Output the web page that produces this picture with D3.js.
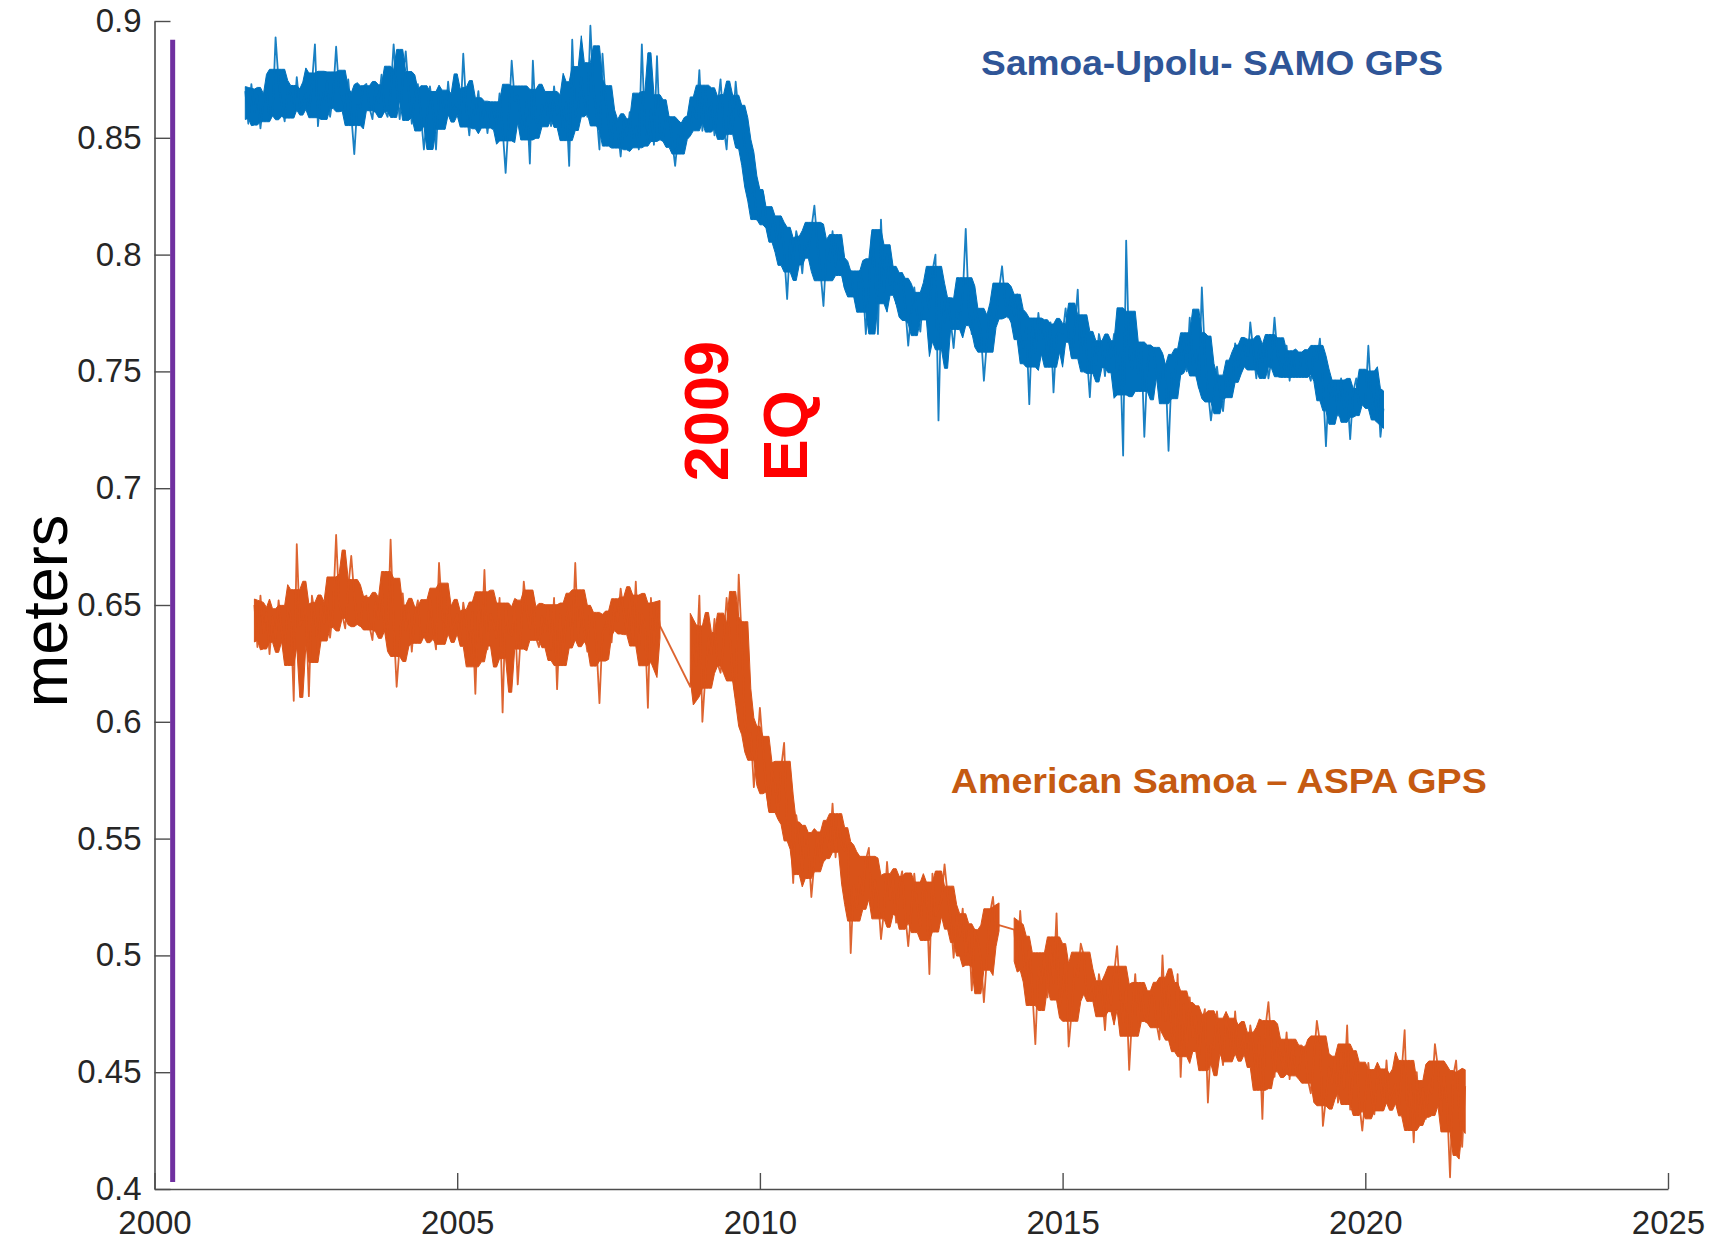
<!DOCTYPE html>
<html>
<head>
<meta charset="utf-8">
<script src="https://cdn.jsdelivr.net/npm/d3@7"></script>
<style>
  body { margin: 0; background: #fff; }
  .tick text { font-family: "Liberation Sans", Arial, sans-serif; fill: #262626; }
</style>
</head>
<body>
<div id="chart"></div>
<script>
// sampling of both GPS series: 20 values per year
const samplesPerYear = 20;

// Samoa-Upolu SAMO GPS (meters)
const samoStart = 2001.5;
const samoValues = [
  .870,.856,.873,.861,.868,.854,.866,.871,.858,.860,
  .893,.874,.864,.857,.871,.869,.859,.876,.863,.865,.869,.860,.873,.890,.855,.870,.864,.874,.859,.868,
  .889,.870,.867,.862,.875,.860,.843,.864,.863,.872,.873,.863,.858,.871,.865,.877,.862,.859,.869,.890,
  .872,.858,.875,.887,.870,.856,.868,.873,.860,.845,.859,.872,.862,.845,.869,.867,.857,.874,.861,.863,
  .865,.856,.886,.863,.851,.866,.860,.870,.855,.864,.852,.864,.861,.856,.869,.854,.835,.858,.883,.866,
  .868,.858,.853,.866,.839,.883,.857,.854,.864,.859,.869,.855,.872,.860,.867,.853,.865,.838,.892,.859,
  .863,.876,.866,.859,.898,.871,.861,.845,.886,.867,.856,.847,.860,.854,.842,.857,.851,.861,.846,.855,
  .845,.890,.854,.849,.862,.847,.885,.851,.850,.859,.859,.849,.838,.851,.845,.857,.856,.853,.863,.858,
  .879,.853,.870,.858,.865,.851,.863,.875,.855,.845,.866,.854,.874,.860,.858,.846,.843,.826,.830,.815,
  .815,.827,.816,.807,.818,.813,.801,.816,.801,.781,.806,.797,.810,.804,.792,.807,.801,.811,.821,.805,
  .793,.778,.802,.797,.810,.795,.808,.793,.786,.793,.793,.783,.779,.793,.788,.766,.786,.809,.794,.766,
  .815,.784,.800,.787,.793,.779,.789,.792,.778,.761,.776,.786,.774,.767,.783,.783,.776,.793,.800,.729,
  .783,.771,.781,.772,.760,.776,.771,.782,.811,.777,.766,.777,.773,.767,.746,.763,.777,.771,.773,.785,
  .795,.780,.773,.783,.774,.783,.765,.760,.769,.736,.772,.758,.775,.763,.770,.756,.771,.741,.765,.768,
  .766,.777,.765,.756,.768,.785,.754,.770,.757,.739,.762,.753,.766,.760,.748,.762,.756,.766,.750,.758,
  .714,.806,.756,.751,.764,.749,.762,.722,.752,.761,.760,.749,.744,.757,.751,.716,.749,.747,.758,.755,
  .764,.750,.773,.753,.759,.743,.786,.757,.742,.729,.740,.752,.741,.733,.747,.747,.741,.762,.752,.757,
  .761,.752,.771,.759,.747,.761,.754,.763,.747,.755,.773,.757,.753,.748,.761,.746,.758,.749,.748,.757,
  .759,.750,.746,.760,.754,.764,.745,.718,.745,.739,.746,.731,.747,.734,.741,.721,.741,.747,.735,.737,
  .736,.761,.739,.732,.746,.722,.734
];

// American Samoa ASPA GPS (meters), three recorded stretches
const aspaStartA = 2001.65;
const aspaValuesA = [
  .650,.632,.654,.638,.647,.629,.645,
  .636,.652,.639,.630,.649,.646,.609,.676,.641,.644,.649,.611,.654,.646,.631,.650,.642,.655,.636,.648,
  .680,.650,.646,.640,.657,.671,.654,.642,.641,.653,.654,.641,.635,.651,.644,.659,.640,.636,.678,.642,
  .615,.633,.655,.639,.648,.630,.646,.652,.635,.638,.637,.653,.640,.631,.668,.647,.634,.656,.639,.642,
  .646,.634,.651,.643,.628,.647,.612,.652,.633,.665,.631,.646,.642,.636,.653,.604,.650,.638,.637,.649,
  .616,.637,.660,.647,.640,.655,.636,.632,.645,.638,.649,.631,.653,.614,.646,.628,.644,.650,.633,.668,
  .636,.652,.639,.630,.649,.646,.633,.608,.638,.641,.646,.634,.651,.643,.657,.647,.639,.652,.633,.660,
  .631,.646,.642,.606,.653,.633,.650,.641
];
const aspaStartB = 2008.85;
const aspaValuesB = [
  .615,.633,.624,
  .654,.600,.620,.636,.629,.644,.625,.621,.634,.653,.638,.620,.611,.663,.635,.600,.593,.595,.572,.588,
  .606,.589,.573,.562,.579,.574,.559,.580,.591,.556,.556,.531,.560,.551,.536,.554,.546,.525,.540,.552,
  .540,.555,.551,.545,.565,.542,.559,.547,.545,.553,.501,.530,.520,.534,.526,.541,.546,.519,.532,.526,
  .507,.519,.540,.524,.533,.514,.530,.536,.518,.504,.519,.535,.521,.512,.530,.527,.492,.535,.517,.520,
  .524,.539,.526,.516,.499,.517,.508,.520,.500,.511,.485,.511,.506,.499,.480,.499,.518,.525,.509,.513
];
const aspaStartC = 2014.2;
const aspaValuesC = [
  .511,.496,.519,.500,.490,.504,.485,.462,.495,.488,.500,.482,.504,.488,.518,.478,
  .485,.500,.461,.476,.495,.491,.505,.500,.482,.484,.488,.476,.492,.484,.468,.487,.479,.492,.504,.484,
  .471,.486,.451,.475,.492,.471,.487,.474,.472,.484,.484,.471,.464,.500,.472,.487,.467,.463,.492,.448,
  .479,.460,.482,.465,.474,.456,.471,.477,.437,.462,.460,.476,.462,.453,.472,.468,.455,.476,.459,.461,
  .466,.454,.470,.462,.447,.465,.430,.469,.480,.462,.448,.463,.458,.451,.467,.447,.463,.450,.449,.460,
  .461,.447,.441,.456,.472,.463,.427,.439,.452,.445,.456,.437,.459,.443,.470,.434,.449,.455,.437,.425,
  .439,.454,.441,.432,.450,.447,.434,.455,.438,.441,.445,.433,.450,.468,.427,.445,.420,.450,.431,.443,
  .430,.445,.441,.462,.452,.432,.449,.437,.405,.448,.455,.434,.418,.444
];

// purple reference line
const markerYears = [2000.3, 2000.3];
const markerValues = [0.403, 0.892];

// axes
const xDomain = [2000, 2025];
const yDomain = [0.4, 0.9];
const xTicks = [2000, 2005, 2010, 2015, 2020, 2025];
const yTicks = [0.4, 0.45, 0.5, 0.55, 0.6, 0.65, 0.7, 0.75, 0.8, 0.85, 0.9];

function toPoints(start, values) {
  return values.map((v, i) => ({ year: start + i / samplesPerYear, value: v }));
}

// dense core of the noisy record: inner quantiles over 7 neighbouring samples
function coreBand(points) {
  return points.map((d, i) => {
    const w = points.slice(Math.max(0, i - 3), i + 4).map((p) => p.value).sort(d3.ascending);
    return { year: d.year, lo: d3.quantile(w, 0.12), hi: d3.quantile(w, 0.88) };
  });
}

const samo = toPoints(samoStart, samoValues);
const aspaA = toPoints(aspaStartA, aspaValuesA);
const aspaB = toPoints(aspaStartB, aspaValuesB);
const aspaC = toPoints(aspaStartC, aspaValuesC);
const aspa = aspaA.concat(aspaB, aspaC);

const width = 1734;
const height = 1242;
const marginLeft = 154.5;
const marginRight = 66;
const marginTop = 21;
const marginBottom = 53;

const xScale = d3.scaleLinear().domain(xDomain).range([marginLeft, width - marginRight]);
const yScale = d3.scaleLinear().domain(yDomain).range([height - marginBottom, marginTop]);

const svg = d3.select("#chart")
  .append("svg")
  .attr("width", width)
  .attr("height", height)
  .style("background", "#fff");

// axes, ticks pointing inward
const xaxis = d3.axisBottom(xScale)
  .tickValues(xTicks)
  .tickFormat(d3.format("d"))
  .tickSizeInner(-16)
  .tickSizeOuter(0)
  .tickPadding(22);
const yaxis = d3.axisLeft(yScale)
  .tickValues(yTicks)
  .tickFormat((d) => String(d))
  .tickSizeInner(-16)
  .tickSizeOuter(0)
  .tickPadding(13);

const gx = svg.append("g")
  .attr("transform", `translate(0, ${height - marginBottom})`)
  .call(xaxis);
const gy = svg.append("g")
  .attr("transform", `translate(${marginLeft}, 0)`)
  .call(yaxis);

[gx, gy].forEach((g) => {
  g.select(".domain").attr("stroke", "#4d4d4d").attr("stroke-width", 1.6);
  g.selectAll(".tick line").attr("stroke", "#4d4d4d").attr("stroke-width", 1.4);
  g.selectAll(".tick text").attr("font-size", 33);
});

// series
const line = d3.line()
  .x((d) => xScale(d.year))
  .y((d) => yScale(d.value));

const area = d3.area()
  .x((d) => xScale(d.year))
  .y0((d) => yScale(d.lo))
  .y1((d) => yScale(d.hi));

const series = [
  { color: "#0072BD", segments: [samo], all: samo },
  { color: "#D95319", segments: [aspaA, aspaB, aspaC], all: aspa },
];

series.forEach((s) => {
  s.segments.forEach((seg) => {
    svg.append("path")
      .datum(coreBand(seg))
      .attr("fill", s.color)
      .attr("stroke", s.color)
      .attr("stroke-width", 1)
      .attr("d", area);
  });
  svg.append("path")
    .datum(s.all)
    .attr("fill", "none")
    .attr("stroke", s.color)
    .attr("stroke-width", 1.8)
    .attr("stroke-opacity", 0.9)
    .attr("stroke-linejoin", "round")
    .attr("d", line);
});

svg.append("line")
  .attr("x1", xScale(markerYears[0]))
  .attr("x2", xScale(markerYears[1]))
  .attr("y1", yScale(markerValues[0]))
  .attr("y2", yScale(markerValues[1]))
  .attr("stroke", "#7030A0")
  .attr("stroke-width", 5);

// labels
svg.append("text")
  .attr("transform", `translate(67, 611) rotate(-90)`)
  .attr("text-anchor", "middle")
  .attr("font-family", "Liberation Sans, Arial, sans-serif")
  .attr("font-size", 63)
  .attr("fill", "#000")
  .text("meters");

svg.append("text")
  .attr("x", xScale(2017.47))
  .attr("y", yScale(0.8769))
  .attr("text-anchor", "middle")
  .attr("font-family", "Liberation Sans, Arial, sans-serif")
  .attr("font-weight", "bold")
  .attr("font-size", 35)
  .attr("textLength", 462)
  .attr("lengthAdjust", "spacingAndGlyphs")
  .attr("fill", "#2F5597")
  .text("Samoa-Upolu- SAMO GPS");

svg.append("text")
  .attr("x", xScale(2017.58))
  .attr("y", yScale(0.5695))
  .attr("text-anchor", "middle")
  .attr("font-family", "Liberation Sans, Arial, sans-serif")
  .attr("font-weight", "bold")
  .attr("font-size", 35)
  .attr("textLength", 536)
  .attr("lengthAdjust", "spacingAndGlyphs")
  .attr("fill", "#C55A11")
  .text("American Samoa – ASPA GPS");

const eqLabel = svg.append("g")
  .attr("font-family", "Liberation Sans, Arial, sans-serif")
  .attr("font-weight", "bold")
  .attr("font-size", 63)
  .attr("fill", "#FF0000");
eqLabel.append("text")
  .attr("transform", `translate(${xScale(2009.47)}, ${yScale(0.703)}) rotate(-90)`)
  .text("2009");
eqLabel.append("text")
  .attr("transform", `translate(${xScale(2010.78)}, ${yScale(0.703)}) rotate(-90)`)
  .text("EQ");
</script>
</body>
</html>
